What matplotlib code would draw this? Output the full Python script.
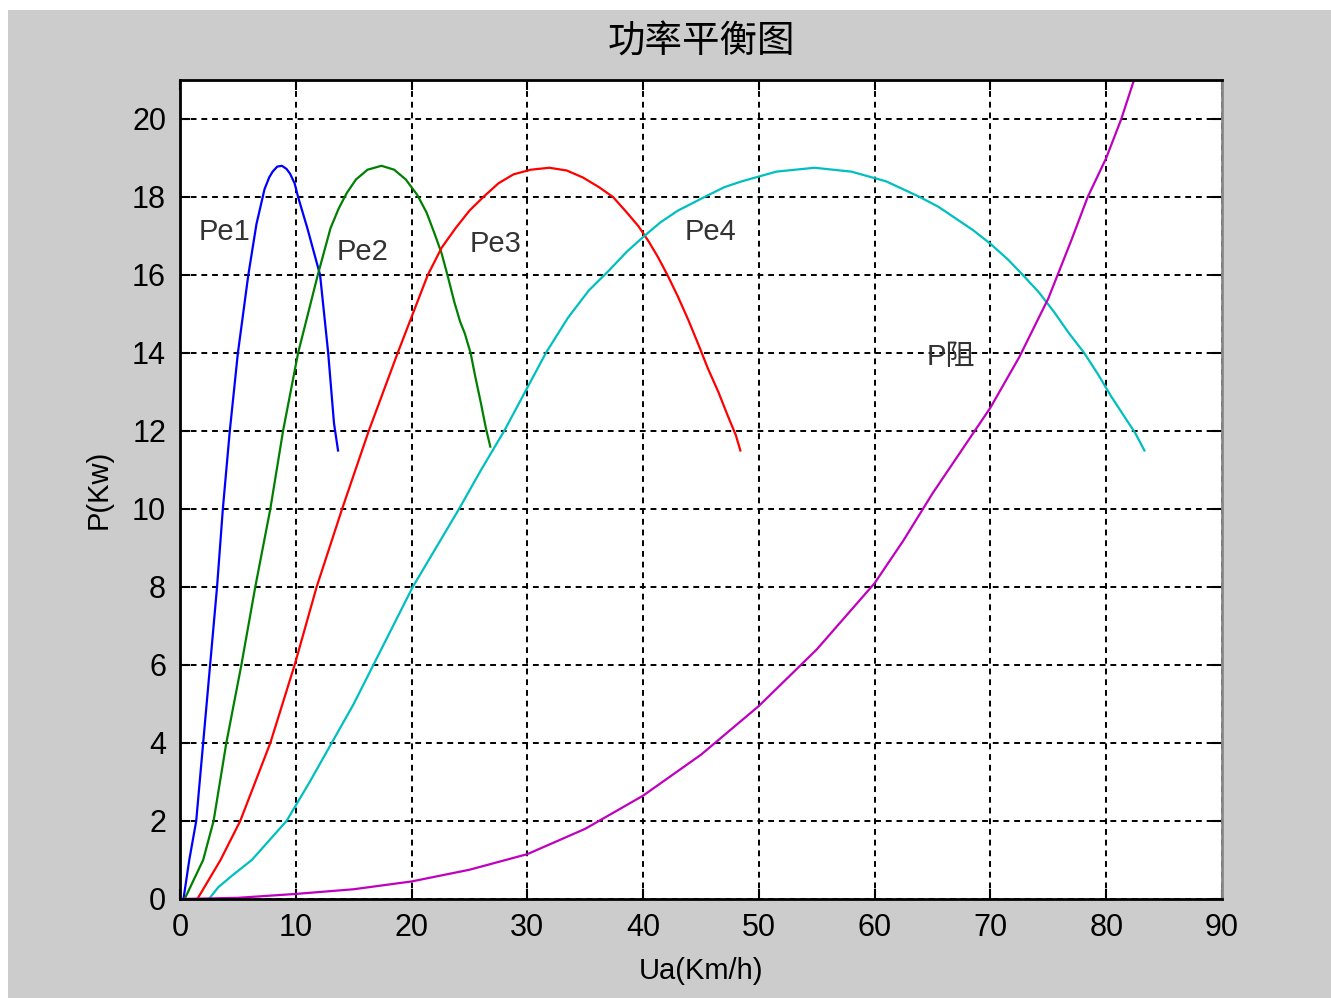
import matplotlib.pyplot as plt
from matplotlib.patches import Rectangle

plt.rcParams['font.family'] = ['Liberation Sans', 'Noto Sans CJK SC', 'DejaVu Sans']

# Pe1..Pe4: engine power in gears 1-4, P阻: resistance power
pe1_u = [0.3, 0.8, 1.4, 2.0, 2.6, 3.2, 3.7, 4.3, 5.0, 5.9, 6.6, 7.3, 7.7, 8.0, 8.4, 8.8,
         9.2, 9.5, 9.9, 10.2, 11.0, 12.1, 12.8, 13.3, 13.65]
pe1_p = [0.0, 1.0, 2.0, 4.0, 6.0, 8.0, 10.0, 12.0, 14.0, 16.0, 17.3, 18.2, 18.5, 18.65, 18.78, 18.8,
         18.72, 18.6, 18.35, 18.0, 17.2, 16.0, 14.0, 12.2, 11.5]

pe2_u = [0.4, 1.2, 2.0, 2.9, 4.0, 5.3, 6.5, 7.8, 8.9, 10.2, 11.9, 13.0, 13.7, 14.4, 15.2, 16.2,
         17.4, 18.5, 19.5, 20.5, 21.3, 22.0, 22.6, 23.1, 23.7, 24.2, 24.6, 25.1, 25.5,
         26.0, 26.4, 26.8]
pe2_p = [0.0, 0.5, 1.0, 2.0, 4.0, 6.0, 8.0, 10.0, 12.0, 14.0, 16.0, 17.2, 17.7, 18.1, 18.45, 18.7,
         18.8, 18.7, 18.45, 18.05, 17.6, 17.05, 16.55, 16.0, 15.3, 14.8, 14.5, 14.0, 13.4,
         12.7, 12.1, 11.6]

pe3_u = [1.5, 3.5, 5.2, 7.8, 9.9, 11.8, 14.0, 16.3, 18.8, 20.1, 21.4, 22.6, 23.8, 25.0, 26.2,
         27.5, 28.8, 30.3, 31.9, 33.4, 34.8, 36.2, 37.4, 38.6, 39.6, 40.5, 41.3, 42.1,
         43.0, 43.9, 44.8, 45.6, 46.5, 47.3, 48.0, 48.4]
pe3_p = [0.0, 1.0, 2.0, 4.0, 6.0, 8.0, 10.0, 12.0, 14.0, 15.0, 16.0, 16.7, 17.2, 17.65, 18.0,
         18.35, 18.58, 18.7, 18.75, 18.68, 18.5, 18.25, 18.0, 17.6, 17.25, 16.85, 16.45, 16.0,
         15.45, 14.85, 14.2, 13.6, 13.0, 12.4, 11.9, 11.5]

pe4_u = [2.5, 3.3, 4.5, 6.2, 7.7, 9.2, 11.2, 13.1, 15.0, 16.7, 18.4, 20.1, 22.1, 24.1, 26.0,
         28.0, 29.8, 31.6, 33.5, 35.3, 37.0, 38.6, 40.1, 41.5, 43.0, 45.3, 47.0, 48.5,
         51.5, 54.8, 58.0, 61.0, 63.9, 65.5, 67.0, 68.5, 70.0, 71.5, 72.8, 74.2, 75.5,
         76.8, 78.1, 79.3, 80.4, 81.5, 82.5, 83.3]
pe4_p = [0.0, 0.3, 0.6, 1.0, 1.5, 2.0, 3.0, 4.0, 5.0, 6.0, 7.0, 8.0, 9.0, 10.0, 11.0,
         12.0, 13.0, 14.0, 14.9, 15.6, 16.1, 16.6, 17.0, 17.35, 17.65, 18.0, 18.25, 18.4,
         18.65, 18.75, 18.65, 18.4, 18.0, 17.75, 17.45, 17.15, 16.8, 16.4, 16.0, 15.55, 15.05,
         14.5, 14.0, 13.45, 12.9, 12.4, 11.95, 11.5]

pz_u = [0, 5, 10, 15, 20, 25, 30, 35, 40, 45, 50, 55, 60, 62.5, 65, 67.5, 70, 72.5, 75,
        77, 78.4, 80, 81.3, 82.4, 83]
pz_p = [0.0, 0.03, 0.13, 0.25, 0.45, 0.75, 1.15, 1.8, 2.65, 3.7, 4.95, 6.4, 8.1, 9.2, 10.4,
        11.5, 12.6, 13.9, 15.4, 16.9, 18.0, 19.0, 20.0, 21.0, 21.6]

labels = ['Pe1', 'Pe2', 'Pe3', 'Pe4', 'P阻']
label_pos = [(1.6, 17.1), (13.5, 16.6), (25.0, 16.8), (43.6, 17.1), (64.5, 13.9)]

fig = plt.figure(figsize=(13.31, 9.98), dpi=100)
fig.patch.set_facecolor('white')
fig.patches.append(Rectangle((8 / 1331, 0), 1, 988 / 998, transform=fig.transFigure,
                             facecolor='#cccccc', edgecolor='none', zorder=-10))

ax = fig.add_axes([180 / 1331, 99 / 998, 1042 / 1331, 819 / 998])
ax.set_facecolor('white')

ax.plot(pe1_u, pe1_p, color=(0, 0, 1), lw=1.6)
ax.plot(pe2_u, pe2_p, color=(0, 0.5, 0), lw=1.6)
ax.plot(pe3_u, pe3_p, color=(1, 0, 0), lw=1.6)
ax.plot(pe4_u, pe4_p, color=(0, 0.75, 0.75), lw=1.6)
ax.plot(pz_u, pz_p, color=(0.75, 0, 0.75), lw=1.6)

for txt, (x, y) in zip(labels, label_pos):
    ax.text(x, y, txt, fontsize=21, color='#333333', va='center', ha='left')

ax.set_xlim(0, 90)
ax.set_ylim(0, 21)
ax.set_xticks(range(0, 91, 10))
ax.set_yticks(range(0, 21, 2))
ax.grid(True, color='black', linestyle=(0, (3, 2.5)), linewidth=1.4)
ax.tick_params(direction='in', length=7, width=1.5, top=True, right=True,
               labelsize=22, pad=10, colors='black')
for s in ['left', 'top', 'bottom']:
    ax.spines[s].set_linewidth(2)
    ax.spines[s].set_color('black')
ax.spines['right'].set_linewidth(2)
ax.spines['right'].set_color('#888888')

ax.set_title('功率平衡图', fontsize=27, pad=20)
ax.set_xlabel('Ua(Km/h)', fontsize=21, labelpad=10)
ax.set_ylabel('P(Kw)', fontsize=21, labelpad=14)

fig.savefig('out.png', dpi=100, facecolor=fig.get_facecolor())
